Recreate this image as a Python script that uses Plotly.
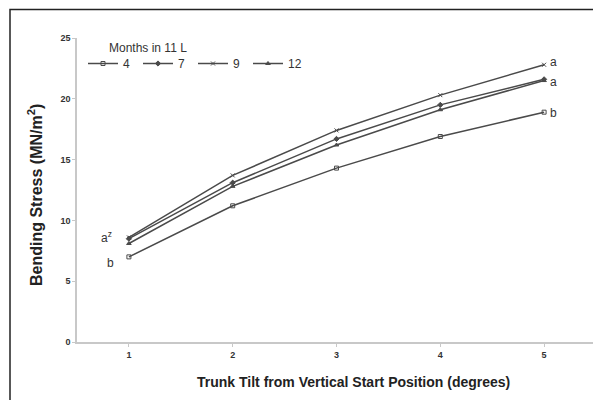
import plotly.graph_objects as go

tilt = [1, 2, 3, 4, 5]
months = ["4", "7", "9", "12"]
stress_4 = [7.0, 11.2, 14.3, 16.9, 18.9]
stress_7 = [8.5, 13.1, 16.7, 19.5, 21.6]
stress_9 = [8.6, 13.7, 17.4, 20.3, 22.8]
stress_12 = [8.1, 12.8, 16.2, 19.1, 21.5]
symbols = ["square-open", "diamond", "x-thin-open", "triangle-up"]

series = [stress_4, stress_7, stress_9, stress_12]

fig = go.Figure()
for name, ys, sym in zip(months, series, symbols):
    fig.add_trace(go.Scatter(
        x=tilt, y=ys, name=name, mode="lines+markers",
        line=dict(color="#4a4a4a", width=1.5),
        marker=dict(symbol=sym, size=4, color="#4a4a4a",
                    line=dict(color="#4a4a4a", width=1)),
    ))

FAM = "Liberation Sans, Arial"
axis_font = dict(family=FAM, size=9, color="#333333")

# page body has an 8px margin: figure is sized to fit the window
L, T, PW, PH = 69, 30, 519, 304
fig.update_layout(
    width=593, height=392,
    margin=dict(l=L, r=593 - L - PW, t=T, b=392 - T - PH),
    paper_bgcolor="white", plot_bgcolor="white",
    font=dict(family=FAM, color="#333333"),
    showlegend=True,
    legend=dict(orientation="h", x=(75 - L) / PW, y=(T + PH - 41) / PH,
                xanchor="left", yanchor="top",
                font=dict(family=FAM, size=12, color="#333333"),
                bgcolor="rgba(0,0,0,0)", entrywidth=10, itemwidth=30),
    xaxis=dict(range=[0.5, 5.5], tickvals=tilt, ticktext=[f"<b>{t}</b>" for t in tilt],
               showgrid=False, zeroline=False, showline=True, linecolor="#c8c8c8",
               linewidth=1.5, ticks="outside", ticklen=3, tickcolor="#c8c8c8",
               tickfont=axis_font),
    yaxis=dict(range=[0, 25], tickvals=[0, 5, 10, 15, 20, 25],
               ticktext=[f"<b>{v}</b>" for v in [0, 5, 10, 15, 20, 25]],
               showgrid=False, zeroline=False, showline=True, linecolor="#c8c8c8",
               linewidth=1.5, ticks="outside", ticklen=3, tickcolor="#c8c8c8",
               tickfont=axis_font),
)

def px(xf):
    return (xf - 8 - L) / PW

def py(yf):
    return (T + PH - (yf - 8)) / PH

# axis titles
fig.add_annotation(text="<b>Trunk Tilt from Vertical Start Position (degrees)</b>",
                   xref="paper", yref="paper", x=px(353), y=py(382),
                   xanchor="center", yanchor="middle", showarrow=False,
                   font=dict(family=FAM, size=14, color="#222222"))
fig.add_annotation(text="<b>Bending Stress (MN/m<sup>2</sup>)</b>",
                   xref="paper", yref="paper", x=px(35), y=py(195), textangle=-90,
                   xanchor="center", yanchor="middle", showarrow=False,
                   font=dict(family=FAM, size=16, color="#222222"))

fig.add_annotation(text="Months in 11 L", xref="paper", yref="paper",
                   x=px(107), y=py(48), xanchor="left", yanchor="middle",
                   showarrow=False, font=dict(family=FAM, size=12, color="#333333"))

ann_font = dict(family=FAM, size=12, color="#333333")
fig.add_annotation(text="a<sup>z</sup>", x=1, y=stress_9[0], xshift=-22, yshift=0,
                   showarrow=False, font=ann_font)
fig.add_annotation(text="b", x=1, y=stress_4[0], xshift=-18, yshift=-6,
                   showarrow=False, font=ann_font)
fig.add_annotation(text="a", x=5, y=stress_9[-1], xshift=9, yshift=3,
                   showarrow=False, font=ann_font)
fig.add_annotation(text="a", x=5, y=stress_7[-1], xshift=9, yshift=-3,
                   showarrow=False, font=ann_font)
fig.add_annotation(text="b", x=5, y=stress_4[-1], xshift=9, yshift=-1,
                   showarrow=False, font=ann_font)

# outer frame
fig.add_shape(type="rect", xref="paper", yref="paper",
              x0=px(10), x1=px(598), y0=py(410), y1=py(9.5),
              line=dict(color="#222222", width=1.5), fillcolor="rgba(0,0,0,0)", layer="below")

fig.write_html("out.html")
